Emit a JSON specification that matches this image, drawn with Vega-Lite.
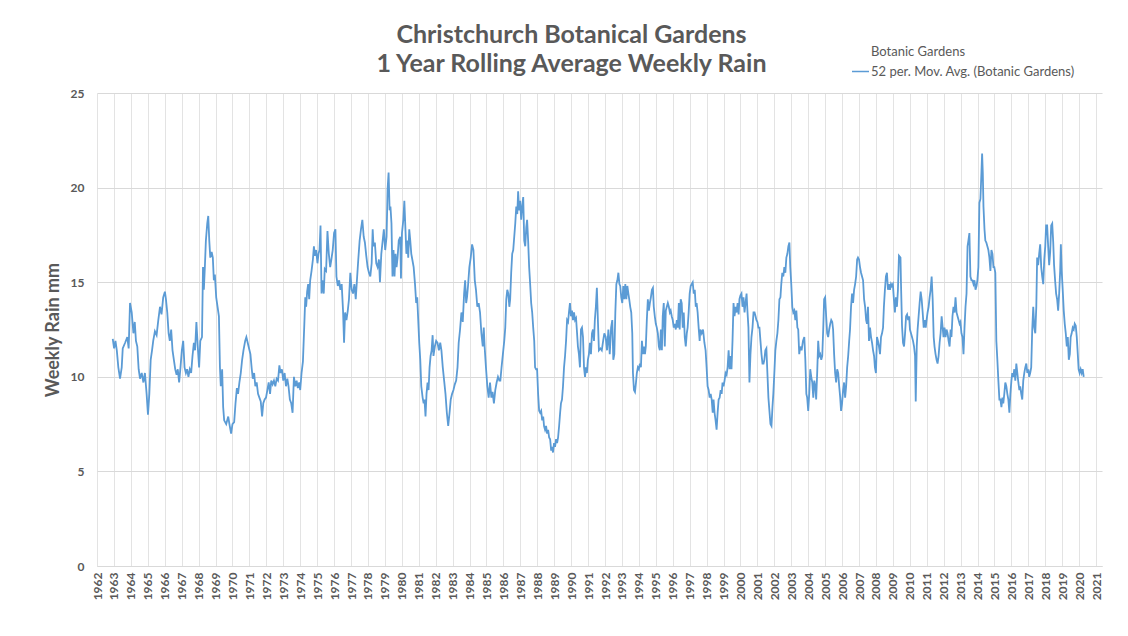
{
"$schema": "https://vega.github.io/schema/vega-lite/v6.json",
"autosize": {"type": "none"},
"padding": {"left": 97, "top": 93, "right": 26, "bottom": 70},
"width": 1005,
"height": 473,
"background": "white",
"title": {
  "text": ["Christchurch Botanical Gardens", "1 Year Rolling Average Weekly Rain"],
  "font": "Lato", "fontSize": 25, "fontWeight": "bold", "color": "#595959",
  "anchor": "middle", "dx": -28, "offset": -35, "lineHeight": 29
},
"config": {"view": {"stroke": null}},
"data": {"values": [
{"year":1962.93,"rain":12.0},{"year":1963.01,"rain":11.5},{"year":1963.09,"rain":11.9},{"year":1963.17,"rain":11.4},{"year":1963.26,"rain":10.5},{"year":1963.36,"rain":9.9},{"year":1963.46,"rain":10.5},{"year":1963.52,"rain":11.5},{"year":1963.66,"rain":11.8},{"year":1963.79,"rain":12.1},{"year":1963.87,"rain":11.5},{"year":1963.95,"rain":13.9},{"year":1964.05,"rain":13.4},{"year":1964.15,"rain":12.3},{"year":1964.23,"rain":12.9},{"year":1964.30,"rain":11.9},{"year":1964.38,"rain":11.6},{"year":1964.46,"rain":10.4},{"year":1964.54,"rain":9.9},{"year":1964.64,"rain":10.2},{"year":1964.74,"rain":9.7},{"year":1964.83,"rain":10.2},{"year":1964.93,"rain":9.1},{"year":1965.01,"rain":8.0},{"year":1965.09,"rain":9.1},{"year":1965.17,"rain":10.9},{"year":1965.25,"rain":11.4},{"year":1965.32,"rain":11.9},{"year":1965.42,"rain":12.4},{"year":1965.52,"rain":12.2},{"year":1965.62,"rain":13.0},{"year":1965.72,"rain":13.7},{"year":1965.81,"rain":13.3},{"year":1965.91,"rain":14.2},{"year":1966.01,"rain":14.5},{"year":1966.07,"rain":14.1},{"year":1966.15,"rain":13.4},{"year":1966.23,"rain":12.3},{"year":1966.30,"rain":11.9},{"year":1966.38,"rain":12.5},{"year":1966.46,"rain":11.4},{"year":1966.54,"rain":10.9},{"year":1966.62,"rain":10.4},{"year":1966.70,"rain":10.1},{"year":1966.77,"rain":10.4},{"year":1966.85,"rain":9.7},{"year":1966.93,"rain":10.5},{"year":1967.01,"rain":11.4},{"year":1967.09,"rain":11.9},{"year":1967.17,"rain":10.5},{"year":1967.25,"rain":10.2},{"year":1967.32,"rain":10.4},{"year":1967.40,"rain":10.0},{"year":1967.48,"rain":10.4},{"year":1967.56,"rain":10.2},{"year":1967.64,"rain":11.1},{"year":1967.72,"rain":11.8},{"year":1967.79,"rain":11.4},{"year":1967.87,"rain":12.9},{"year":1967.95,"rain":11.6},{"year":1968.03,"rain":10.5},
{"year":1968.10,"rain":11.9},{"year":1968.20,"rain":12.1},{"year":1968.26,"rain":15.8},{"year":1968.31,"rain":14.6},{"year":1968.37,"rain":15.8},{"year":1968.43,"rain":17.2},{"year":1968.51,"rain":18.1},{"year":1968.57,"rain":18.5},{"year":1968.63,"rain":17.2},{"year":1968.69,"rain":16.3},{"year":1968.77,"rain":16.6},{"year":1968.84,"rain":16.3},{"year":1968.90,"rain":15.1},{"year":1968.96,"rain":15.4},{"year":1969.04,"rain":14.2},{"year":1969.12,"rain":13.7},{"year":1969.20,"rain":13.2},{"year":1969.26,"rain":10.5},{"year":1969.31,"rain":9.5},{"year":1969.39,"rain":10.4},{"year":1969.45,"rain":8.4},{"year":1969.51,"rain":7.7},{"year":1969.63,"rain":7.5},{"year":1969.75,"rain":7.9},{"year":1969.82,"rain":7.5},{"year":1969.92,"rain":7.0},{"year":1970.00,"rain":7.5},{"year":1970.10,"rain":7.6},{"year":1970.18,"rain":8.6},{"year":1970.26,"rain":9.4},{"year":1970.33,"rain":9.1},{"year":1970.41,"rain":9.7},{"year":1970.49,"rain":10.2},{"year":1970.57,"rain":10.9},{"year":1970.65,"rain":11.4},{"year":1970.75,"rain":11.9},{"year":1970.82,"rain":12.1},{"year":1970.90,"rain":11.8},{"year":1970.98,"rain":11.5},{"year":1971.06,"rain":11.2},{"year":1971.14,"rain":10.4},{"year":1971.20,"rain":9.9},{"year":1971.28,"rain":10.2},{"year":1971.35,"rain":9.5},{"year":1971.43,"rain":9.7},{"year":1971.51,"rain":9.1},{"year":1971.59,"rain":8.9},{"year":1971.67,"rain":8.7},{"year":1971.75,"rain":7.9},{"year":1971.82,"rain":8.6},{"year":1971.90,"rain":8.8},{"year":1971.98,"rain":8.9},{"year":1972.06,"rain":9.3},{"year":1972.14,"rain":9.7},{"year":1972.22,"rain":9.1},{"year":1972.29,"rain":9.8},{"year":1972.37,"rain":9.6},{"year":1972.45,"rain":9.8},{"year":1972.53,"rain":9.5},{"year":1972.61,"rain":9.9},{"year":1972.69,"rain":9.8},{"year":1972.77,"rain":10.6},{"year":1972.84,"rain":10.2},{"year":1972.92,"rain":10.4},{"year":1973.00,"rain":9.8},{"year":1973.08,"rain":10.2},{"year":1973.16,"rain":9.5},{"year":1973.24,"rain":9.9},{"year":1973.31,"rain":9.5},{"year":1973.39,"rain":8.8},{"year":1973.47,"rain":8.6},{"year":1973.55,"rain":8.1},{"year":1973.63,"rain":10.0},{"year":1973.71,"rain":9.5},{"year":1973.79,"rain":9.8},{"year":1973.86,"rain":9.4},{"year":1973.94,"rain":9.7},
{"year":1974.00,"rain":9.3},{"year":1974.08,"rain":10.2},{"year":1974.16,"rain":10.8},{"year":1974.24,"rain":12.7},{"year":1974.30,"rain":14.2},{"year":1974.35,"rain":13.7},{"year":1974.41,"rain":14.5},{"year":1974.47,"rain":14.9},{"year":1974.53,"rain":14.1},{"year":1974.59,"rain":15.1},{"year":1974.67,"rain":15.6},{"year":1974.75,"rain":16.2},{"year":1974.81,"rain":16.9},{"year":1974.86,"rain":16.4},{"year":1974.94,"rain":16.7},{"year":1975.02,"rain":16.0},{"year":1975.08,"rain":16.5},{"year":1975.14,"rain":16.7},{"year":1975.20,"rain":18.0},{"year":1975.26,"rain":14.4},{"year":1975.31,"rain":15.1},{"year":1975.39,"rain":14.4},{"year":1975.45,"rain":15.7},{"year":1975.53,"rain":15.6},{"year":1975.61,"rain":17.7},{"year":1975.69,"rain":16.5},{"year":1975.77,"rain":15.8},{"year":1975.84,"rain":16.2},{"year":1975.92,"rain":16.7},{"year":1976.00,"rain":17.6},{"year":1976.08,"rain":17.8},{"year":1976.14,"rain":15.3},{"year":1976.22,"rain":14.8},{"year":1976.30,"rain":15.1},{"year":1976.37,"rain":14.6},{"year":1976.45,"rain":14.9},{"year":1976.53,"rain":13.5},{"year":1976.59,"rain":11.8},{"year":1976.65,"rain":13.4},{"year":1976.73,"rain":13.0},{"year":1976.81,"rain":13.5},{"year":1976.88,"rain":14.1},{"year":1976.96,"rain":15.5},{"year":1977.04,"rain":14.6},{"year":1977.12,"rain":14.4},{"year":1977.20,"rain":14.9},{"year":1977.28,"rain":14.1},{"year":1977.35,"rain":15.1},{"year":1977.43,"rain":16.2},{"year":1977.51,"rain":17.2},{"year":1977.59,"rain":17.8},{"year":1977.67,"rain":18.3},{"year":1977.75,"rain":17.4},{"year":1977.82,"rain":17.1},{"year":1977.90,"rain":16.4},{"year":1977.98,"rain":15.8},{"year":1978.06,"rain":15.5},{"year":1978.14,"rain":15.3},{"year":1978.22,"rain":16.0},{"year":1978.28,"rain":17.8},{"year":1978.33,"rain":16.9},{"year":1978.41,"rain":17.1},{"year":1978.49,"rain":16.0},{"year":1978.57,"rain":15.8},{"year":1978.65,"rain":16.2},{"year":1978.71,"rain":15.0},{"year":1978.79,"rain":16.5},{"year":1978.86,"rain":17.1},{"year":1978.94,"rain":17.8},{"year":1979.02,"rain":16.7},{"year":1979.10,"rain":17.4},{"year":1979.16,"rain":19.9},{"year":1979.22,"rain":20.8},{"year":1979.28,"rain":18.8},{"year":1979.33,"rain":19.0},{"year":1979.39,"rain":18.1},{"year":1979.45,"rain":15.3},{"year":1979.51,"rain":16.7},{"year":1979.57,"rain":15.3},{"year":1979.63,"rain":16.5},{"year":1979.69,"rain":15.8},{"year":1979.75,"rain":16.3},{"year":1979.82,"rain":17.2},
{"year":1979.91,"rain":17.4},{"year":1979.95,"rain":15.2},{"year":1980.01,"rain":17.6},{"year":1980.09,"rain":18.3},{"year":1980.15,"rain":19.3},{"year":1980.21,"rain":17.9},{"year":1980.27,"rain":16.5},{"year":1980.33,"rain":17.2},{"year":1980.38,"rain":16.3},{"year":1980.44,"rain":17.8},{"year":1980.50,"rain":17.2},{"year":1980.56,"rain":16.5},{"year":1980.62,"rain":16.2},{"year":1980.70,"rain":15.8},{"year":1980.78,"rain":14.9},{"year":1980.85,"rain":13.9},{"year":1980.91,"rain":14.2},{"year":1980.97,"rain":13.0},{"year":1981.03,"rain":11.8},{"year":1981.09,"rain":10.9},{"year":1981.15,"rain":9.5},{"year":1981.23,"rain":8.9},{"year":1981.29,"rain":8.6},{"year":1981.34,"rain":8.8},{"year":1981.40,"rain":7.9},{"year":1981.46,"rain":9.1},{"year":1981.52,"rain":9.7},{"year":1981.58,"rain":9.3},{"year":1981.64,"rain":10.5},{"year":1981.70,"rain":11.1},{"year":1981.76,"rain":11.4},{"year":1981.82,"rain":12.2},{"year":1981.87,"rain":11.1},{"year":1981.95,"rain":11.6},{"year":1982.03,"rain":11.9},{"year":1982.11,"rain":11.8},{"year":1982.19,"rain":11.4},{"year":1982.27,"rain":11.8},{"year":1982.34,"rain":11.4},{"year":1982.42,"rain":10.5},{"year":1982.50,"rain":9.8},{"year":1982.58,"rain":9.1},{"year":1982.66,"rain":8.1},{"year":1982.74,"rain":7.4},{"year":1982.82,"rain":8.1},{"year":1982.89,"rain":8.8},{"year":1982.97,"rain":9.1},{"year":1983.05,"rain":9.3},{"year":1983.13,"rain":9.6},{"year":1983.21,"rain":9.8},{"year":1983.29,"rain":10.5},{"year":1983.36,"rain":11.8},{"year":1983.44,"rain":12.5},{"year":1983.52,"rain":13.4},{"year":1983.60,"rain":12.9},{"year":1983.68,"rain":14.4},{"year":1983.74,"rain":15.1},{"year":1983.80,"rain":13.9},{"year":1983.85,"rain":14.2},{"year":1983.91,"rain":14.8},{"year":1983.99,"rain":15.8},{"year":1984.07,"rain":16.3},{"year":1984.15,"rain":17.0},{"year":1984.23,"rain":16.7},{"year":1984.31,"rain":15.1},{"year":1984.38,"rain":14.6},{"year":1984.46,"rain":13.7},{"year":1984.54,"rain":13.9},{"year":1984.62,"rain":13.4},{"year":1984.70,"rain":12.3},{"year":1984.78,"rain":11.6},{"year":1984.84,"rain":12.6},{"year":1984.89,"rain":11.6},{"year":1984.97,"rain":10.5},{"year":1985.05,"rain":9.5},{"year":1985.13,"rain":8.9},{"year":1985.21,"rain":9.7},{"year":1985.29,"rain":8.9},{"year":1985.36,"rain":9.2},{"year":1985.44,"rain":8.6},{"year":1985.52,"rain":9.3},{"year":1985.60,"rain":9.7},{"year":1985.68,"rain":10.0},{"year":1985.76,"rain":9.8},
{"year":1985.82,"rain":9.8},{"year":1985.89,"rain":10.5},{"year":1985.97,"rain":11.2},{"year":1986.05,"rain":11.9},{"year":1986.11,"rain":12.6},{"year":1986.17,"rain":14.1},{"year":1986.23,"rain":14.6},{"year":1986.29,"rain":14.4},{"year":1986.35,"rain":13.7},{"year":1986.40,"rain":14.1},{"year":1986.46,"rain":15.5},{"year":1986.52,"rain":16.5},{"year":1986.58,"rain":16.7},{"year":1986.64,"rain":17.4},{"year":1986.70,"rain":18.1},{"year":1986.76,"rain":19.0},{"year":1986.82,"rain":18.6},{"year":1986.87,"rain":19.8},{"year":1986.93,"rain":18.8},{"year":1986.99,"rain":19.3},{"year":1987.05,"rain":18.3},{"year":1987.11,"rain":19.0},{"year":1987.17,"rain":19.5},{"year":1987.23,"rain":17.2},{"year":1987.29,"rain":16.9},{"year":1987.35,"rain":17.9},{"year":1987.40,"rain":18.3},{"year":1987.46,"rain":17.2},{"year":1987.52,"rain":15.8},{"year":1987.58,"rain":14.9},{"year":1987.64,"rain":13.9},{"year":1987.70,"rain":13.4},{"year":1987.76,"rain":12.6},{"year":1987.82,"rain":11.9},{"year":1987.87,"rain":10.5},{"year":1987.93,"rain":10.4},{"year":1987.99,"rain":10.4},{"year":1988.05,"rain":9.1},{"year":1988.11,"rain":8.2},{"year":1988.17,"rain":8.1},{"year":1988.23,"rain":8.2},{"year":1988.29,"rain":7.7},{"year":1988.35,"rain":7.9},{"year":1988.40,"rain":7.4},{"year":1988.46,"rain":7.2},{"year":1988.52,"rain":7.4},{"year":1988.58,"rain":7.0},{"year":1988.64,"rain":7.2},{"year":1988.70,"rain":6.8},{"year":1988.76,"rain":6.7},{"year":1988.82,"rain":6.1},{"year":1988.87,"rain":6.3},{"year":1988.93,"rain":6.0},{"year":1988.99,"rain":6.5},{"year":1989.05,"rain":6.3},{"year":1989.11,"rain":6.7},{"year":1989.17,"rain":6.5},{"year":1989.23,"rain":6.8},{"year":1989.29,"rain":7.4},{"year":1989.35,"rain":8.1},{"year":1989.40,"rain":8.6},{"year":1989.46,"rain":8.8},{"year":1989.52,"rain":9.5},{"year":1989.58,"rain":10.5},{"year":1989.64,"rain":11.1},{"year":1989.70,"rain":11.9},{"year":1989.76,"rain":13.0},{"year":1989.82,"rain":12.9},{"year":1989.87,"rain":13.4},{"year":1989.93,"rain":13.9},{"year":1989.99,"rain":13.2},{"year":1990.05,"rain":13.5},{"year":1990.11,"rain":13.0},{"year":1990.17,"rain":13.4},{"year":1990.23,"rain":13.0},{"year":1990.29,"rain":13.1},{"year":1990.35,"rain":12.3},{"year":1990.40,"rain":11.6},{"year":1990.46,"rain":11.2},{"year":1990.52,"rain":10.5},{"year":1990.58,"rain":12.5},{"year":1990.64,"rain":12.6},{"year":1990.70,"rain":12.1},{"year":1990.76,"rain":10.5},{"year":1990.82,"rain":10.0},{"year":1990.87,"rain":10.5},{"year":1990.93,"rain":10.2},{"year":1990.99,"rain":10.9},{"year":1991.05,"rain":11.2},{"year":1991.11,"rain":11.8},{"year":1991.17,"rain":11.2},{"year":1991.23,"rain":12.3},{"year":1991.29,"rain":12.5},{"year":1991.35,"rain":11.9},{"year":1991.40,"rain":13.0},{"year":1991.46,"rain":13.7},{"year":1991.52,"rain":14.7},{"year":1991.58,"rain":13.0},{"year":1991.64,"rain":11.4},
{"year":1991.73,"rain":11.5},{"year":1991.81,"rain":11.4},{"year":1991.89,"rain":11.9},{"year":1991.96,"rain":12.3},{"year":1992.04,"rain":12.1},{"year":1992.12,"rain":11.4},{"year":1992.20,"rain":12.5},{"year":1992.28,"rain":11.2},{"year":1992.36,"rain":12.6},{"year":1992.43,"rain":13.0},{"year":1992.49,"rain":10.9},{"year":1992.55,"rain":11.2},{"year":1992.61,"rain":13.4},{"year":1992.67,"rain":14.9},{"year":1992.73,"rain":15.1},{"year":1992.79,"rain":15.5},{"year":1992.85,"rain":14.9},{"year":1992.90,"rain":14.8},{"year":1992.96,"rain":14.2},{"year":1993.02,"rain":13.9},{"year":1993.08,"rain":14.8},{"year":1993.14,"rain":14.1},{"year":1993.20,"rain":14.9},{"year":1993.26,"rain":14.1},{"year":1993.32,"rain":14.8},{"year":1993.38,"rain":14.4},{"year":1993.43,"rain":14.1},{"year":1993.49,"rain":13.7},{"year":1993.55,"rain":13.4},{"year":1993.61,"rain":12.3},{"year":1993.65,"rain":10.2},{"year":1993.71,"rain":9.3},{"year":1993.77,"rain":9.2},{"year":1993.83,"rain":9.7},{"year":1993.88,"rain":10.2},{"year":1993.94,"rain":10.5},{"year":1994.00,"rain":10.4},{"year":1994.06,"rain":10.7},{"year":1994.12,"rain":10.5},{"year":1994.18,"rain":11.9},{"year":1994.24,"rain":11.2},{"year":1994.30,"rain":11.6},{"year":1994.36,"rain":11.2},{"year":1994.41,"rain":11.6},{"year":1994.47,"rain":13.0},{"year":1994.53,"rain":14.1},{"year":1994.59,"rain":13.5},{"year":1994.65,"rain":13.9},{"year":1994.71,"rain":14.2},{"year":1994.77,"rain":14.6},{"year":1994.83,"rain":14.7},{"year":1994.88,"rain":13.7},{"year":1994.94,"rain":13.2},{"year":1995.00,"rain":12.8},{"year":1995.06,"rain":12.6},{"year":1995.12,"rain":12.3},{"year":1995.18,"rain":11.6},{"year":1995.24,"rain":11.4},{"year":1995.30,"rain":12.5},{"year":1995.36,"rain":11.4},{"year":1995.41,"rain":13.2},{"year":1995.47,"rain":13.9},{"year":1995.53,"rain":11.6},{"year":1995.59,"rain":13.5},{"year":1995.65,"rain":13.7},{"year":1995.71,"rain":13.9},{"year":1995.77,"rain":13.7},{"year":1995.83,"rain":13.4},{"year":1995.88,"rain":13.5},{"year":1995.94,"rain":13.2},{"year":1996.00,"rain":13.0},{"year":1996.06,"rain":12.6},{"year":1996.12,"rain":12.8},{"year":1996.18,"rain":12.5},{"year":1996.24,"rain":13.0},{"year":1996.30,"rain":12.6},{"year":1996.36,"rain":13.9},{"year":1996.41,"rain":12.5},{"year":1996.47,"rain":14.1},{"year":1996.53,"rain":13.9},{"year":1996.59,"rain":12.6},{"year":1996.65,"rain":13.4},{"year":1996.71,"rain":12.1},{"year":1996.77,"rain":11.6},{"year":1996.83,"rain":12.3},{"year":1996.88,"rain":12.6},{"year":1996.94,"rain":13.4},{"year":1997.00,"rain":14.4},{"year":1997.06,"rain":14.8},{"year":1997.12,"rain":14.9},{"year":1997.18,"rain":15.0},{"year":1997.24,"rain":14.4},{"year":1997.30,"rain":14.6},{"year":1997.36,"rain":13.7},{"year":1997.41,"rain":13.9},{"year":1997.47,"rain":13.4},{"year":1997.53,"rain":12.6},{"year":1997.59,"rain":11.9},
{"year":1997.63,"rain":12.5},{"year":1997.71,"rain":12.3},{"year":1997.79,"rain":12.5},{"year":1997.87,"rain":11.8},{"year":1997.94,"rain":11.4},{"year":1998.00,"rain":10.5},{"year":1998.06,"rain":9.5},{"year":1998.12,"rain":9.3},{"year":1998.18,"rain":8.9},{"year":1998.24,"rain":9.1},{"year":1998.30,"rain":8.8},{"year":1998.36,"rain":8.1},{"year":1998.41,"rain":8.8},{"year":1998.47,"rain":8.1},{"year":1998.53,"rain":7.7},{"year":1998.59,"rain":7.2},{"year":1998.65,"rain":8.1},{"year":1998.71,"rain":8.8},{"year":1998.77,"rain":8.9},{"year":1998.83,"rain":9.3},{"year":1998.89,"rain":9.1},{"year":1998.94,"rain":9.7},{"year":1999.00,"rain":9.5},{"year":1999.06,"rain":9.8},{"year":1999.12,"rain":10.2},{"year":1999.18,"rain":10.1},{"year":1999.24,"rain":10.5},{"year":1999.30,"rain":11.4},{"year":1999.36,"rain":10.4},{"year":1999.41,"rain":11.1},{"year":1999.47,"rain":10.4},{"year":1999.53,"rain":11.9},{"year":1999.59,"rain":13.9},{"year":1999.65,"rain":13.2},{"year":1999.71,"rain":13.7},{"year":1999.77,"rain":13.4},{"year":1999.83,"rain":13.9},{"year":1999.89,"rain":13.3},{"year":1999.94,"rain":14.1},{"year":2000.00,"rain":14.3},{"year":2000.06,"rain":14.4},{"year":2000.12,"rain":13.7},{"year":2000.18,"rain":14.2},{"year":2000.24,"rain":13.4},{"year":2000.30,"rain":13.9},{"year":2000.36,"rain":14.4},{"year":2000.41,"rain":13.5},{"year":2000.47,"rain":12.6},{"year":2000.53,"rain":9.7},{"year":2000.59,"rain":11.2},{"year":2000.65,"rain":12.1},{"year":2000.71,"rain":12.6},{"year":2000.77,"rain":13.4},{"year":2000.83,"rain":13.4},{"year":2000.89,"rain":13.2},{"year":2000.94,"rain":13.0},{"year":2001.00,"rain":12.9},{"year":2001.06,"rain":12.6},{"year":2001.12,"rain":12.6},{"year":2001.18,"rain":11.9},{"year":2001.24,"rain":11.2},{"year":2001.30,"rain":10.7},{"year":2001.36,"rain":10.7},{"year":2001.41,"rain":10.9},{"year":2001.47,"rain":11.4},{"year":2001.53,"rain":11.5},{"year":2001.59,"rain":10.2},{"year":2001.65,"rain":8.9},{"year":2001.71,"rain":8.2},{"year":2001.77,"rain":7.5},{"year":2001.83,"rain":7.4},{"year":2001.89,"rain":8.4},{"year":2001.94,"rain":9.1},{"year":2002.00,"rain":10.2},{"year":2002.06,"rain":11.4},{"year":2002.12,"rain":11.9},{"year":2002.18,"rain":12.3},{"year":2002.24,"rain":13.0},{"year":2002.30,"rain":14.1},{"year":2002.36,"rain":14.2},{"year":2002.41,"rain":14.9},{"year":2002.47,"rain":15.5},{"year":2002.53,"rain":15.3},{"year":2002.59,"rain":15.8},{"year":2002.65,"rain":15.5},{"year":2002.71,"rain":16.3},{"year":2002.77,"rain":16.5},{"year":2002.83,"rain":16.9},{"year":2002.89,"rain":17.1},{"year":2002.94,"rain":15.8},{"year":2003.00,"rain":14.9},{"year":2003.06,"rain":13.7},{"year":2003.12,"rain":13.4},{"year":2003.18,"rain":13.5},{"year":2003.24,"rain":13.0},{"year":2003.30,"rain":13.5},{"year":2003.36,"rain":12.6},{"year":2003.41,"rain":12.5},{"year":2003.47,"rain":11.2},
{"year":2003.53,"rain":11.6},{"year":2003.61,"rain":11.4},{"year":2003.69,"rain":11.9},{"year":2003.77,"rain":12.1},{"year":2003.83,"rain":10.9},{"year":2003.89,"rain":9.1},{"year":2003.94,"rain":8.9},{"year":2004.00,"rain":8.2},{"year":2004.06,"rain":9.1},{"year":2004.12,"rain":10.4},{"year":2004.18,"rain":10.0},{"year":2004.24,"rain":9.7},{"year":2004.30,"rain":8.9},{"year":2004.36,"rain":9.8},{"year":2004.42,"rain":9.5},{"year":2004.47,"rain":8.8},{"year":2004.53,"rain":10.2},{"year":2004.59,"rain":11.9},{"year":2004.65,"rain":11.1},{"year":2004.71,"rain":11.2},{"year":2004.77,"rain":10.9},{"year":2004.83,"rain":11.1},{"year":2004.89,"rain":12.6},{"year":2004.94,"rain":14.1},{"year":2005.00,"rain":14.2},{"year":2005.06,"rain":13.2},{"year":2005.12,"rain":12.3},{"year":2005.18,"rain":12.1},{"year":2005.24,"rain":12.5},{"year":2005.30,"rain":12.8},{"year":2005.36,"rain":13.0},{"year":2005.42,"rain":12.9},{"year":2005.47,"rain":12.5},{"year":2005.53,"rain":11.2},{"year":2005.59,"rain":10.2},{"year":2005.65,"rain":9.7},{"year":2005.71,"rain":10.4},{"year":2005.77,"rain":10.2},{"year":2005.83,"rain":9.5},{"year":2005.89,"rain":8.9},{"year":2005.94,"rain":8.2},{"year":2006.00,"rain":8.6},{"year":2006.06,"rain":9.3},{"year":2006.12,"rain":9.7},{"year":2006.18,"rain":8.9},{"year":2006.24,"rain":9.5},{"year":2006.30,"rain":10.5},{"year":2006.36,"rain":11.1},{"year":2006.42,"rain":11.9},{"year":2006.47,"rain":12.5},{"year":2006.53,"rain":13.7},{"year":2006.59,"rain":14.4},{"year":2006.65,"rain":13.9},{"year":2006.71,"rain":14.6},{"year":2006.77,"rain":14.9},{"year":2006.83,"rain":15.3},{"year":2006.89,"rain":16.2},{"year":2006.94,"rain":16.3},{"year":2007.00,"rain":16.2},{"year":2007.06,"rain":15.8},{"year":2007.12,"rain":15.5},{"year":2007.18,"rain":15.3},{"year":2007.24,"rain":15.1},{"year":2007.30,"rain":14.1},{"year":2007.36,"rain":13.7},{"year":2007.42,"rain":13.0},{"year":2007.47,"rain":12.8},{"year":2007.53,"rain":13.7},{"year":2007.59,"rain":11.9},{"year":2007.65,"rain":12.6},{"year":2007.71,"rain":12.1},{"year":2007.77,"rain":11.8},{"year":2007.83,"rain":11.4},{"year":2007.89,"rain":11.1},{"year":2007.94,"rain":10.5},{"year":2008.00,"rain":10.2},{"year":2008.06,"rain":12.1},{"year":2008.12,"rain":11.9},{"year":2008.18,"rain":11.6},{"year":2008.24,"rain":11.2},{"year":2008.30,"rain":12.1},{"year":2008.36,"rain":12.3},{"year":2008.42,"rain":12.6},{"year":2008.47,"rain":13.7},{"year":2008.53,"rain":14.6},{"year":2008.59,"rain":15.3},{"year":2008.65,"rain":15.5},{"year":2008.71,"rain":14.6},{"year":2008.77,"rain":14.9},{"year":2008.83,"rain":14.6},{"year":2008.89,"rain":14.9},{"year":2008.94,"rain":14.8},{"year":2009.00,"rain":14.9},{"year":2009.06,"rain":14.1},{"year":2009.12,"rain":13.4},{"year":2009.18,"rain":14.2},{"year":2009.24,"rain":13.7},{"year":2009.30,"rain":14.6},{"year":2009.36,"rain":16.4},
{"year":2009.45,"rain":16.3},{"year":2009.48,"rain":14.9},{"year":2009.54,"rain":12.7},{"year":2009.60,"rain":11.8},{"year":2009.66,"rain":11.6},{"year":2009.72,"rain":12.3},{"year":2009.78,"rain":13.2},{"year":2009.84,"rain":13.3},{"year":2009.90,"rain":13.0},{"year":2009.96,"rain":13.2},{"year":2010.01,"rain":12.5},{"year":2010.07,"rain":12.3},{"year":2010.13,"rain":12.1},{"year":2010.19,"rain":11.9},{"year":2010.25,"rain":11.6},{"year":2010.31,"rain":11.1},{"year":2010.35,"rain":8.7},{"year":2010.41,"rain":11.6},{"year":2010.46,"rain":12.5},{"year":2010.52,"rain":13.2},{"year":2010.58,"rain":13.9},{"year":2010.64,"rain":14.5},{"year":2010.70,"rain":14.1},{"year":2010.76,"rain":13.4},{"year":2010.82,"rain":12.6},{"year":2010.88,"rain":13.0},{"year":2010.94,"rain":12.6},{"year":2010.99,"rain":13.0},{"year":2011.05,"rain":13.4},{"year":2011.11,"rain":13.7},{"year":2011.17,"rain":14.2},{"year":2011.23,"rain":14.6},{"year":2011.29,"rain":15.3},{"year":2011.35,"rain":14.1},{"year":2011.41,"rain":12.1},{"year":2011.46,"rain":11.6},{"year":2011.52,"rain":11.2},{"year":2011.58,"rain":10.9},{"year":2011.64,"rain":10.7},{"year":2011.70,"rain":11.1},{"year":2011.76,"rain":11.8},{"year":2011.82,"rain":12.3},{"year":2011.88,"rain":13.2},{"year":2011.94,"rain":12.6},{"year":2011.99,"rain":12.1},{"year":2012.05,"rain":12.6},{"year":2012.11,"rain":12.1},{"year":2012.17,"rain":12.5},{"year":2012.23,"rain":12.3},{"year":2012.29,"rain":11.9},{"year":2012.35,"rain":11.6},{"year":2012.41,"rain":12.5},{"year":2012.46,"rain":12.1},{"year":2012.52,"rain":13.2},{"year":2012.58,"rain":13.7},{"year":2012.64,"rain":13.4},{"year":2012.70,"rain":14.2},{"year":2012.76,"rain":13.4},{"year":2012.82,"rain":13.2},{"year":2012.88,"rain":13.0},{"year":2012.94,"rain":12.8},{"year":2012.99,"rain":12.9},{"year":2013.05,"rain":12.3},{"year":2013.11,"rain":12.1},{"year":2013.17,"rain":11.2},{"year":2013.23,"rain":12.6},{"year":2013.29,"rain":13.7},{"year":2013.35,"rain":14.4},{"year":2013.41,"rain":16.9},{"year":2013.46,"rain":17.2},{"year":2013.52,"rain":17.6},{"year":2013.58,"rain":15.3},{"year":2013.64,"rain":15.1},{"year":2013.70,"rain":15.1},{"year":2013.76,"rain":14.9},{"year":2013.82,"rain":15.1},{"year":2013.88,"rain":14.6},{"year":2013.94,"rain":14.8},{"year":2013.99,"rain":15.1},{"year":2014.05,"rain":15.8},{"year":2014.11,"rain":19.2},{"year":2014.17,"rain":19.4},{"year":2014.23,"rain":20.8},{"year":2014.27,"rain":21.8},{"year":2014.31,"rain":20.8},{"year":2014.35,"rain":19.0},{"year":2014.41,"rain":17.8},{"year":2014.46,"rain":17.2},{"year":2014.52,"rain":17.1},{"year":2014.58,"rain":16.9},{"year":2014.64,"rain":16.7},{"year":2014.70,"rain":16.3},{"year":2014.76,"rain":15.6},{"year":2014.82,"rain":16.7},{"year":2014.88,"rain":16.5},{"year":2014.94,"rain":15.8},{"year":2014.99,"rain":15.8},{"year":2015.05,"rain":15.5},{"year":2015.11,"rain":11.9},{"year":2015.17,"rain":10.9},{"year":2015.23,"rain":9.8},{"year":2015.29,"rain":8.8},
{"year":2015.35,"rain":8.8},{"year":2015.41,"rain":8.4},{"year":2015.47,"rain":8.9},{"year":2015.52,"rain":8.6},{"year":2015.58,"rain":9.1},{"year":2015.64,"rain":9.7},{"year":2015.70,"rain":9.5},{"year":2015.76,"rain":9.1},{"year":2015.82,"rain":8.8},{"year":2015.88,"rain":8.1},{"year":2015.94,"rain":9.1},{"year":2016.00,"rain":9.8},{"year":2016.05,"rain":10.2},{"year":2016.11,"rain":10.0},{"year":2016.17,"rain":10.4},{"year":2016.23,"rain":9.8},{"year":2016.29,"rain":10.7},{"year":2016.35,"rain":10.2},{"year":2016.41,"rain":9.7},{"year":2016.47,"rain":9.3},{"year":2016.52,"rain":9.5},{"year":2016.58,"rain":9.1},{"year":2016.64,"rain":8.8},{"year":2016.70,"rain":9.8},{"year":2016.76,"rain":10.2},{"year":2016.82,"rain":10.5},{"year":2016.88,"rain":10.7},{"year":2016.94,"rain":10.2},{"year":2017.00,"rain":10.4},{"year":2017.05,"rain":10.0},{"year":2017.11,"rain":10.2},{"year":2017.17,"rain":10.5},{"year":2017.23,"rain":12.5},{"year":2017.29,"rain":13.7},{"year":2017.35,"rain":12.6},{"year":2017.41,"rain":12.3},{"year":2017.47,"rain":13.7},{"year":2017.52,"rain":16.3},{"year":2017.58,"rain":15.9},{"year":2017.64,"rain":16.5},{"year":2017.70,"rain":17.0},{"year":2017.76,"rain":15.8},{"year":2017.82,"rain":15.3},{"year":2017.88,"rain":14.9},{"year":2017.94,"rain":16.2},{"year":2018.00,"rain":16.9},{"year":2018.05,"rain":18.0},{"year":2018.11,"rain":18.0},{"year":2018.17,"rain":16.9},{"year":2018.23,"rain":15.9},{"year":2018.29,"rain":16.6},{"year":2018.35,"rain":18.0},{"year":2018.41,"rain":18.1},{"year":2018.47,"rain":17.1},{"year":2018.52,"rain":15.9},{"year":2018.58,"rain":15.1},{"year":2018.64,"rain":14.4},{"year":2018.70,"rain":14.1},{"year":2018.76,"rain":13.5},{"year":2018.82,"rain":14.4},{"year":2018.88,"rain":15.6},{"year":2018.92,"rain":17.0},{"year":2018.97,"rain":15.6},{"year":2019.03,"rain":14.6},{"year":2019.09,"rain":13.5},{"year":2019.15,"rain":12.8},{"year":2019.21,"rain":12.3},{"year":2019.27,"rain":11.6},{"year":2019.33,"rain":12.1},{"year":2019.39,"rain":10.9},{"year":2019.45,"rain":11.2},{"year":2019.50,"rain":12.1},{"year":2019.56,"rain":12.3},{"year":2019.62,"rain":12.6},{"year":2019.68,"rain":12.5},{"year":2019.74,"rain":12.8},{"year":2019.80,"rain":12.7},{"year":2019.86,"rain":12.1},{"year":2019.92,"rain":11.2},{"year":2019.97,"rain":10.4},{"year":2020.03,"rain":10.2},{"year":2020.09,"rain":10.4},{"year":2020.15,"rain":10.2},{"year":2020.21,"rain":10.4},{"year":2020.27,"rain":10.0}
]},
"mark": {"type": "line", "strokeWidth": 1.8, "interpolate": "linear"},
"encoding": {
  "x": {
    "field": "year", "type": "quantitative",
    "scale": {"domain": [1962, 2021.35], "nice": false, "zero": false},
    "axis": {
      "title": null,
      "values": [1962,1963,1964,1965,1966,1967,1968,1969,1970,1971,1972,1973,1974,1975,1976,1977,1978,1979,1980,1981,1982,1983,1984,1985,1986,1987,1988,1989,1990,1991,1992,1993,1994,1995,1996,1997,1998,1999,2000,2001,2002,2003,2004,2005,2006,2007,2008,2009,2010,2011,2012,2013,2014,2015,2016,2017,2018,2019,2020,2021],
      "format": "d", "labelAngle": -90, "labelFont": "Lato", "labelFontSize": 12, "labelFontWeight": "bold", "labelColor": "#595959",
      "labelPadding": 6, "labelFlush": false, "labelBound": false, "labelOverlap": false,
      "ticks": false, "domain": true, "domainColor": "#d9d9d9", "domainWidth": 1,
      "grid": true, "gridColor": "#e3e3e3", "gridWidth": 1
    }
  },
  "y": {
    "field": "rain", "type": "quantitative",
    "scale": {"domain": [0, 25], "nice": false},
    "axis": {
      "title": "Weekly Rain mm", "titleFont": "Lato", "titleFontSize": 18, "titleFontWeight": "bold", "titleColor": "#595959", "titlePadding": 8,
      "values": [0, 5, 10, 15, 20, 25], "labelFont": "Lato", "labelFontSize": 12, "labelFontWeight": "bold", "labelColor": "#595959", "labelPadding": 13,
      "ticks": false, "domain": false, "grid": true, "gridColor": "#d9d9d9", "gridWidth": 1
    }
  },
  "color": {
    "datum": "52 per. Mov. Avg. (Botanic Gardens)", "type": "nominal",
    "scale": {"domain": ["Botanic Gardens", "52 per. Mov. Avg. (Botanic Gardens)"], "range": ["rgba(0,0,0,0)", "#5B9BD5"]},
    "legend": {
      "title": null, "orient": "none", "legendX": 754, "legendY": -51,
      "symbolType": "stroke", "symbolSize": 289, "symbolStrokeWidth": 1.5,
      "labelFont": "Lato", "labelFontSize": 13, "labelColor": "#595959", "labelOffset": 1, "labelLimit": 400, "rowPadding": 3
    }
  }
}
}
